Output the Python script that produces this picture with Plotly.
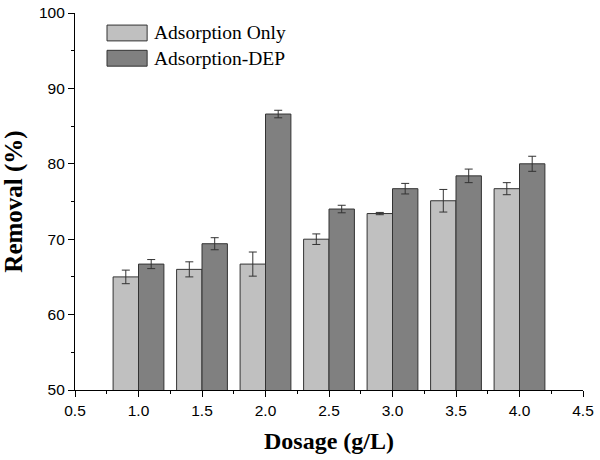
import plotly.graph_objects as go

dosage = [1.0, 1.5, 2.0, 2.5, 3.0, 3.5, 4.0]
ads_only = [65.0, 66.0, 66.7, 70.0, 73.4, 75.1, 76.7]
ads_only_err = [0.9, 1.0, 1.6, 0.7, 0.15, 1.5, 0.8]
ads_dep = [66.7, 69.4, 86.6, 74.0, 76.7, 78.4, 80.0]
ads_dep_err = [0.6, 0.8, 0.5, 0.5, 0.7, 0.9, 1.0]
series_names = ["Adsorption Only", "Adsorption-DEP"]
colors = ["#c0c0c0", "#808080"]

fig = go.Figure()
for name, vals, errs, col in [(series_names[0], ads_only, ads_only_err, colors[0]),
                              (series_names[1], ads_dep, ads_dep_err, colors[1])]:
    fig.add_trace(go.Bar(
        x=dosage, y=vals, name=name,
        marker=dict(color=col, line=dict(color="#333333", width=1)),
        error_y=dict(type="data", array=errs, color="#333333", thickness=1, width=4),
        showlegend=False,
    ))

# custom legend (swatches + labels)
for i, (name, col) in enumerate(zip(series_names, colors)):
    y_top = 0.968 - i * 0.067
    fig.add_shape(type="rect", xref="paper", yref="paper",
                  x0=0.063, x1=0.142, y0=y_top - 0.042, y1=y_top,
                  fillcolor=col, line=dict(color="#333333", width=1))
    fig.add_annotation(xref="paper", yref="paper", x=0.152, y=y_top - 0.021,
                       text=name, showarrow=False, xanchor="left", yanchor="middle",
                       font=dict(family="Liberation Serif", size=19.5, color="black"))

fig.update_layout(
    width=600, height=460,
    margin=dict(l=75, r=17, t=13, b=70),
    paper_bgcolor="white", plot_bgcolor="white",
    barmode="group", bargap=0.2, bargroupgap=0,
    font=dict(family="Liberation Sans", size=15.5, color="black"),
    xaxis=dict(
        automargin=False,
        range=[0.5, 4.5], tick0=0.5, dtick=0.5, tickformat=".1f",
        showline=True, linecolor="black", linewidth=1.2,
        ticks="outside", ticklen=6, tickcolor="black", tickwidth=1,
        minor=dict(dtick=0.25, tick0=0.5, ticks="outside", ticklen=3, tickcolor="black"),
        showgrid=False, zeroline=False,
        title=dict(text="<b>Dosage (g/L)</b>", standoff=14,
                   font=dict(family="Liberation Serif", size=24)),
    ),
    yaxis=dict(
        automargin=False,
        range=[50, 100], tick0=50, dtick=10,
        showline=True, linecolor="black", linewidth=1.2,
        ticks="outside", ticklen=6, tickcolor="black", tickwidth=1,
        minor=dict(dtick=5, ticks="outside", ticklen=3, tickcolor="black"),
        showgrid=False, zeroline=False,
        title=dict(text="<b>Removal (%)</b>", standoff=12,
                   font=dict(family="Liberation Serif", size=25)),
    ),
)

fig.write_html("out.html")
